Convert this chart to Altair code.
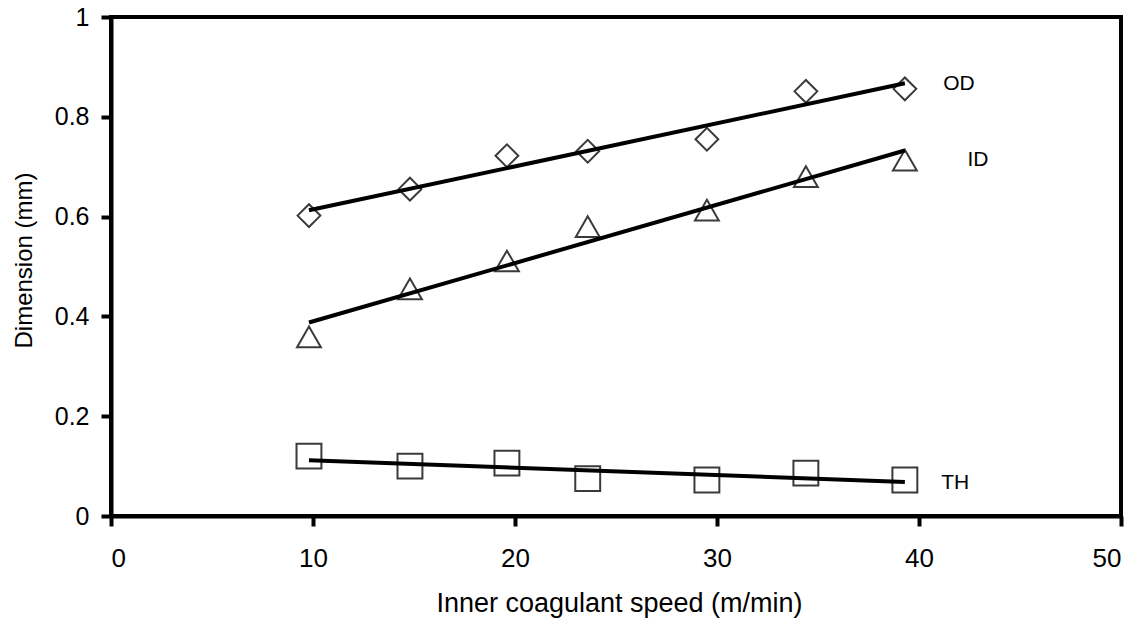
import altair as alt
import pandas as pd

# Hollow-fibre dimensions versus inner coagulant speed
speed = [9.8, 14.8, 19.6, 23.6, 29.5, 34.4, 39.3]
od = [0.602, 0.655, 0.722, 0.731, 0.755, 0.851, 0.856]
id_ = [0.359, 0.455, 0.511, 0.580, 0.613, 0.680, 0.713]
th = [0.120, 0.100, 0.106, 0.075, 0.072, 0.086, 0.072]
series_names = ["OD", "ID", "TH"]

# Series labels placed beside the right end of each trend
label_x = [41.2, 42.4, 41.1]
label_y = [0.866, 0.713, 0.067]

x_ticks = [0, 10, 20, 30, 40, 50]
y_ticks = [0, 0.2, 0.4, 0.6, 0.8, 1]

rows = []
for name, vals in zip(series_names, [od, id_, th]):
    for s, v in zip(speed, vals):
        rows.append({"speed": s, "value": v, "series": name})
df = pd.DataFrame(rows)
labels = pd.DataFrame({"series": series_names, "x": label_x, "y": label_y})

FONT = "Liberation Sans"

x_enc = alt.X(
    "speed:Q",
    scale=alt.Scale(domain=[0, 50], nice=False, zero=False),
    axis=alt.Axis(values=x_ticks, format="d", title="Inner coagulant speed (m/min)",
                  titleX=508, titleY=95, titleBaseline="alphabetic"),
)
y_enc = alt.Y(
    "value:Q",
    scale=alt.Scale(domain=[0, 1], nice=False),
    axis=alt.Axis(values=y_ticks, format="~g", title="Dimension (mm)",
                  titleX=-87, titleY=243, titleAngle=-90, titleBaseline="middle",
                  titleAlign="center"),
)

points = alt.Chart(df).mark_point(filled=False, strokeWidth=2, color="#3a3a3a", opacity=1).encode(
    x=x_enc,
    y=y_enc,
    shape=alt.Shape("series:N", scale=alt.Scale(domain=series_names,
                    range=["diamond", "triangle-up", "square"]), legend=None),
    size=alt.Size("series:O", scale=alt.Scale(domain=series_names, range=[520, 620, 580]),
                  legend=None),
)

trend = alt.Chart(df).transform_regression(
    "speed", "value", groupby=["series"]
).mark_line(color="black", strokeWidth=4, strokeCap="butt").encode(
    x="speed:Q",
    y="value:Q",
    detail="series:N",
)

text = alt.Chart(labels).mark_text(
    align="left", baseline="middle", font=FONT, fontSize=21, color="black"
).encode(x="x:Q", y="y:Q", text="series:N")

chart = alt.layer(points, trend, text).properties(
    width=1010,
    height=499,
    autosize=alt.AutoSizeParams(type="none"),
    padding={"left": 111, "top": 17, "right": 24, "bottom": 103},
    background="white",
).configure_view(
    stroke="black", strokeWidth=4
).configure_axis(
    domainColor="black", domainWidth=4,
    tickColor="black", tickWidth=4, tickSize=10,
    grid=False,
    labelFont=FONT, labelFontSize=25, labelColor="black",
    titleFont=FONT, titleFontSize=24, titleFontWeight="normal", titleColor="black",
).configure_axisX(
    labelPadding=19, labelFontSize=26, titleFontSize=27,
).configure_axisY(
    labelPadding=12,
)

chart.save("out.html", embed_options={"renderer": "svg", "actions": False})
